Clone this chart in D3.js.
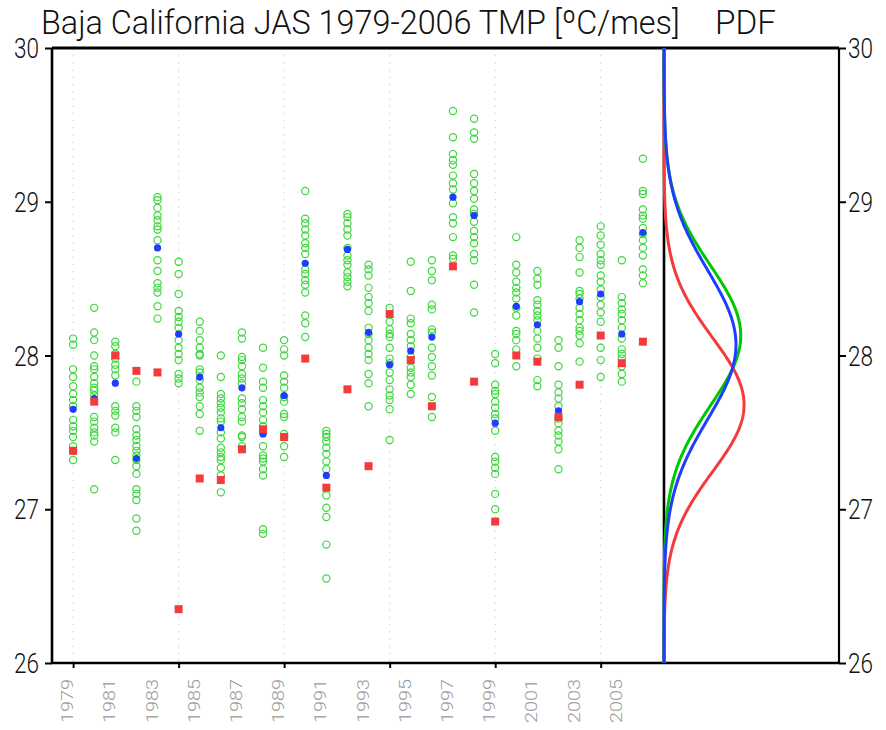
<!DOCTYPE html>
<html>
<head>
<meta charset="utf-8">
<script src="https://cdn.jsdelivr.net/npm/d3@7/dist/d3.min.js"></script>
<style>
  html, body { margin: 0; padding: 0; background: #ffffff; }
  svg { display: block; }
  text { font-family: Roboto, "Liberation Sans", "DejaVu Sans", sans-serif; }
</style>
</head>
<body>
<div id="chart"></div>
<script>
// ---------------- data ----------------
const titleText = "Baja California JAS 1979-2006 TMP [ºC/mes]";
const pdfTitle = "PDF";

const years = d3.range(1979, 2007);

// observed value per year (red squares)
const obs = [27.38, 27.70, 28.00, 27.90, 27.89, 26.35, 27.20, 27.19, 27.39, 27.52,
             27.47, 27.98, 27.14, 27.78, 27.28, 28.27, 27.97, 27.67, 28.58, 27.83,
             26.92, 28.00, 27.96, 27.60, 27.81, 28.13, 27.95, 28.09];

// ensemble mean per year (blue dots)
const ensMean = [27.65, 27.72, 27.82, 27.33, 28.70, 28.14, 27.86, 27.53, 27.79, 27.49,
                 27.74, 28.60, 27.22, 28.69, 28.15, 27.94, 28.03, 28.12, 29.03, 28.91,
                 27.56, 28.32, 28.20, 27.64, 28.35, 28.40, 28.14, 28.80];

// ensemble members per year (green open circles)
const members = [
  [28.11, 28.07, 27.91, 27.86, 27.80, 27.75, 27.71, 27.67, 27.58, 27.54, 27.51, 27.47, 27.41, 27.38, 27.32],
  [28.31, 28.15, 28.10, 28.00, 27.93, 27.91, 27.86, 27.82, 27.79, 27.77, 27.74, 27.60, 27.57, 27.53, 27.50, 27.48, 27.44, 27.13],
  [28.09, 28.06, 28.01, 27.98, 27.94, 27.91, 27.87, 27.67, 27.64, 27.61, 27.53, 27.50, 27.32],
  [27.83, 27.67, 27.64, 27.60, 27.52, 27.48, 27.45, 27.41, 27.38, 27.35, 27.32, 27.28, 27.23, 27.13, 27.10, 27.06, 26.94, 26.86],
  [29.03, 29.01, 28.96, 28.91, 28.88, 28.84, 28.82, 28.75, 28.62, 28.55, 28.47, 28.44, 28.41, 28.32, 28.24],
  [28.61, 28.53, 28.40, 28.29, 28.25, 28.22, 28.18, 28.10, 28.05, 28.01, 27.97, 27.88, 27.85, 27.82],
  [28.22, 28.16, 28.10, 28.05, 28.01, 28.00, 27.91, 27.89, 27.84, 27.79, 27.76, 27.73, 27.67, 27.62, 27.51],
  [28.00, 27.86, 27.75, 27.72, 27.69, 27.66, 27.63, 27.59, 27.57, 27.50, 27.46, 27.40, 27.37, 27.34, 27.32, 27.27, 27.22, 27.11],
  [28.15, 28.11, 27.99, 27.97, 27.93, 27.88, 27.85, 27.82, 27.72, 27.69, 27.65, 27.60, 27.57, 27.48, 27.47, 27.41],
  [28.05, 27.92, 27.83, 27.79, 27.71, 27.67, 27.63, 27.58, 27.54, 27.50, 27.41, 27.35, 27.33, 27.31, 27.26, 27.22, 26.87, 26.84],
  [28.10, 28.04, 28.00, 27.87, 27.83, 27.79, 27.73, 27.70, 27.62, 27.60, 27.49, 27.47, 27.41, 27.34],
  [29.07, 28.89, 28.86, 28.82, 28.78, 28.73, 28.70, 28.66, 28.56, 28.53, 28.49, 28.46, 28.41, 28.26, 28.21, 28.12],
  [27.51, 27.49, 27.47, 27.44, 27.40, 27.36, 27.31, 27.26, 27.09, 27.01, 26.95, 26.77, 26.55],
  [28.92, 28.90, 28.86, 28.82, 28.78, 28.70, 28.65, 28.62, 28.59, 28.54, 28.51, 28.48, 28.45],
  [28.59, 28.56, 28.52, 28.44, 28.38, 28.34, 28.29, 28.18, 28.14, 28.10, 28.05, 28.01, 27.97, 27.88, 27.82, 27.67],
  [28.31, 28.22, 28.17, 28.14, 28.12, 28.05, 27.98, 27.95, 27.89, 27.84, 27.78, 27.74, 27.71, 27.65, 27.45],
  [28.61, 28.42, 28.24, 28.21, 28.14, 28.10, 28.06, 27.99, 27.92, 27.89, 27.86, 27.81, 27.75],
  [28.62, 28.55, 28.49, 28.33, 28.30, 28.17, 28.15, 28.05, 27.99, 27.93, 27.87, 27.73, 27.60],
  [29.59, 29.42, 29.31, 29.27, 29.24, 29.17, 29.12, 29.08, 28.99, 28.90, 28.86, 28.77, 28.65, 28.63],
  [29.54, 29.45, 29.41, 29.18, 29.12, 29.07, 29.02, 28.95, 28.92, 28.87, 28.81, 28.77, 28.73, 28.66, 28.62, 28.46, 28.28],
  [28.01, 27.95, 27.81, 27.77, 27.75, 27.70, 27.66, 27.62, 27.59, 27.51, 27.34, 27.31, 27.27, 27.23, 27.10, 27.00],
  [28.77, 28.59, 28.54, 28.48, 28.44, 28.41, 28.37, 28.31, 28.26, 28.16, 28.14, 28.10, 28.04, 27.93],
  [28.55, 28.50, 28.46, 28.36, 28.33, 28.29, 28.26, 28.23, 28.16, 28.11, 28.05, 27.98, 27.84, 27.80],
  [28.10, 28.05, 27.93, 27.81, 27.76, 27.72, 27.67, 27.59, 27.56, 27.51, 27.48, 27.44, 27.39, 27.26],
  [28.75, 28.70, 28.64, 28.54, 28.42, 28.40, 28.37, 28.31, 28.27, 28.23, 28.18, 28.16, 28.13, 28.08, 27.96],
  [28.84, 28.78, 28.72, 28.66, 28.62, 28.59, 28.52, 28.48, 28.43, 28.38, 28.33, 28.28, 28.22, 28.05, 27.97, 27.86],
  [28.62, 28.38, 28.34, 28.30, 28.27, 28.23, 28.18, 28.11, 28.04, 28.01, 27.98, 27.93, 27.88, 27.83],
  [29.28, 29.07, 29.05, 28.95, 28.91, 28.89, 28.83, 28.79, 28.75, 28.70, 28.65, 28.56, 28.52, 28.47]
];

// Gaussian PDFs in the side panel (observed, members, ensemble mean)
const pdfNames = ["obs", "members", "ensmean"];
const pdfMean  = [27.68, 28.13, 28.07];
const pdfSd    = [0.436, 0.455, 0.485];

const yTicks = [26, 27, 28, 29, 30];
const xMajorTicks = [1979, 1984, 1989, 1994, 1999, 2004];
const xLabelYears = d3.range(1979, 2006, 2);

// ---------------- styles ----------------
const colObs = "#f43b3b", colMean = "#1f3dff", colMem = "#3ed83e";
const pdfColors = ["#f43b3b", "#00c800", "#1f3dff"];

// ---------------- layout ----------------
const W = 886, H = 730;
const pL = 52, pMid = 664, pR = 839, pT = 48, pB = 663;

const svg = d3.select("#chart").append("svg")
  .attr("width", W).attr("height", H)
  .attr("viewBox", `0 0 ${W} ${H}`);

const x = d3.scaleLinear().domain([1978, 2007]).range([pL, pMid]);
const y = d3.scaleLinear().domain([26, 30]).range([pB, pT]);
const px = d3.scaleLinear().domain([0, 2]).range([pMid, pR]);

// helper: draw a text at (tx,ty) with optional rotation, scaled horizontally to a target width
function fitText(g, str, tx, ty, opts) {
  const t = g.append("text")
    .attr("font-size", opts.size)
    .attr("font-weight", opts.weight || 300)
    .attr("fill", opts.fill || "#111")
    .attr("text-anchor", opts.anchor || "start")
    .attr("dy", opts.dy || null)
    .text(str);
  const w = t.node().getComputedTextLength();
  const sx = w > 0 ? opts.width / w : 1;
  const rot = opts.rotate ? ` rotate(${opts.rotate})` : "";
  t.attr("transform", `translate(${tx},${ty})${rot} scale(${sx},1)`);
  return t;
}

// vertical dotted grid lines
svg.append("g").selectAll("line").data(xMajorTicks).join("line")
  .attr("x1", d => x(d)).attr("x2", d => x(d))
  .attr("y1", pT).attr("y2", pB)
  .attr("stroke", "#c4c4c4").attr("stroke-width", 1)
  .attr("stroke-dasharray", "1.2,6");

// tick marks via d3 axes (labels drawn separately)
const gl = svg.append("g").attr("transform", `translate(${pL},0)`)
  .call(d3.axisLeft(y).tickValues(yTicks).tickSize(7).tickSizeOuter(0).tickFormat(""));
const gr = svg.append("g").attr("transform", `translate(${pR},0)`)
  .call(d3.axisRight(y).tickValues(yTicks).tickSize(7).tickSizeOuter(0).tickFormat(""));
const gb = svg.append("g").attr("transform", `translate(0,${pB})`)
  .call(d3.axisBottom(x).tickValues(xMajorTicks).tickSize(5).tickSizeOuter(0).tickFormat(""));
[gl, gr, gb].forEach(g => {
  g.select(".domain").remove();
  g.selectAll(".tick text").remove();
  g.selectAll(".tick line").attr("stroke", "#000").attr("stroke-width", 2);
});

// y labels, left and right
const labG = svg.append("g");
yTicks.forEach(v => {
  fitText(labG, String(v), 39, y(v), { size: 28, width: 25, anchor: "end", dy: "0.36em" });
  fitText(labG, String(v), 848, y(v), { size: 28, width: 25, anchor: "start", dy: "0.36em" });
});

// rotated x labels
xLabelYears.forEach(d => {
  fitText(labG, String(d), x(d), 679, { size: 16, width: 44, anchor: "end", rotate: -90, fill: "#9a9a9a" });
});

// frame lines
const frame = svg.append("g").attr("stroke", "#000");
frame.append("line").attr("x1", pL).attr("x2", pR).attr("y1", pT).attr("y2", pT).attr("stroke-width", 3.2);
frame.append("line").attr("x1", pL).attr("x2", pR).attr("y1", pB).attr("y2", pB).attr("stroke-width", 2.4);
frame.append("line").attr("x1", pL).attr("x2", pL).attr("y1", pT).attr("y2", pB).attr("stroke-width", 2.6);
frame.append("line").attr("x1", pR).attr("x2", pR).attr("y1", pT).attr("y2", pB).attr("stroke-width", 2.2);
frame.append("line").attr("x1", pMid).attr("x2", pMid).attr("y1", pT).attr("y2", pB).attr("stroke-width", 2.6);

// members
const memPts = [];
members.forEach((arr, i) => arr.forEach(v => memPts.push({ year: years[i], v })));
svg.append("g").selectAll("circle").data(memPts).join("circle")
  .attr("cx", d => x(d.year)).attr("cy", d => y(d.v)).attr("r", 3.6)
  .attr("fill", "none").attr("stroke", colMem).attr("stroke-width", 1.2);

// ensemble mean
svg.append("g").selectAll("circle").data(ensMean).join("circle")
  .attr("cx", (d, i) => x(years[i])).attr("cy", d => y(d)).attr("r", 3.6)
  .attr("fill", colMean);

// observations
const sq = 8;
svg.append("g").selectAll("rect").data(obs).join("rect")
  .attr("x", (d, i) => x(years[i]) - sq / 2).attr("y", d => y(d) - sq / 2)
  .attr("width", sq).attr("height", sq)
  .attr("fill", colObs);

// PDF curves
const grid = d3.range(26, 30.0001, 0.01);
const line = d3.line().x(d => px(d.p)).y(d => y(d.v)).curve(d3.curveLinear);
pdfNames.forEach((name, k) => {
  const m = pdfMean[k], s = pdfSd[k];
  const pts = grid.map(v => ({ v, p: Math.exp(-((v - m) ** 2) / (2 * s * s)) / (s * Math.sqrt(2 * Math.PI)) }));
  svg.append("path").datum(pts)
    .attr("d", line)
    .attr("fill", "none")
    .attr("stroke", pdfColors[k])
    .attr("stroke-width", 3)
    .attr("stroke-linejoin", "round");
});

// titles
const titleG = svg.append("g");
fitText(titleG, titleText, 41, 34, { size: 34, width: 639 });
fitText(titleG, pdfTitle, 715, 34, { size: 34, width: 61 });
</script>
</body>
</html>
